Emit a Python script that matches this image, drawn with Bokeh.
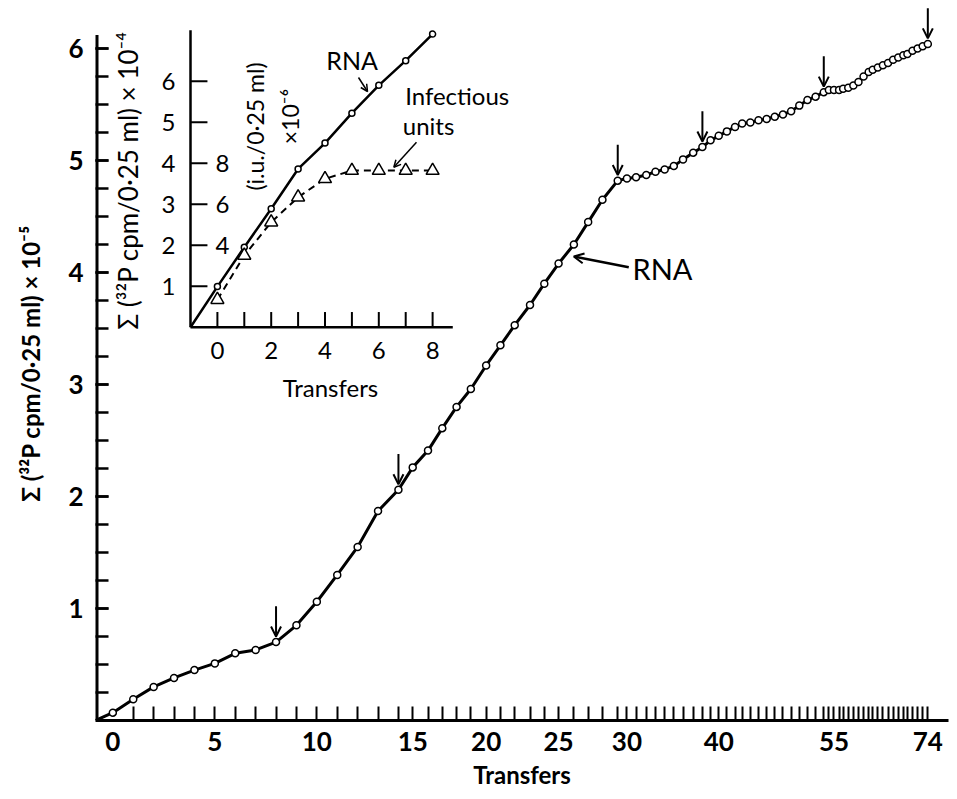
from math import pi
from bokeh.plotting import figure
from bokeh.models import Range1d, FixedTicker, ColumnDataSource, Arrow, OpenHead, Label
from bokeh.core.properties import value
from bokeh.embed import file_html
from bokeh.resources import INLINE

FONT = "Lato"
INK = "black"

# ---------------- main series: cumulative RNA vs. transfers ----------------
transfers = list(range(75))
# incubation-time position (min) at which each transfer was made
transfer_time = [17, 37, 57, 77, 97, 117, 137, 157, 177, 197, 217, 237, 257, 277, 297,
                 311, 326, 340, 354, 368, 383, 397, 411, 426, 440, 454, 469, 483, 497, 512,
                 521, 530, 540, 549, 558, 567, 576, 586, 595,
                 603, 611, 619, 627, 634, 642, 650, 658, 666, 674, 682, 690, 698, 706, 714,
                 719, 724, 729, 733, 738, 743, 748, 753, 758, 762, 767, 772, 777, 782, 787,
                 792, 796, 801, 806, 811, 816]
# sum of 32P cpm / 0.25 ml  (x 10^-5)
rna_cpm = [0.07, 0.19, 0.30, 0.38, 0.45, 0.51, 0.60, 0.63, 0.70, 0.85,
           1.06, 1.30, 1.55, 1.87, 2.06, 2.26, 2.41, 2.61, 2.80, 2.96,
           3.17, 3.35, 3.53, 3.71, 3.90, 4.08, 4.25, 4.45, 4.65, 4.82,
           4.84, 4.85, 4.87, 4.90, 4.92, 4.95, 5.01, 5.07, 5.12,
           5.18, 5.22, 5.26, 5.30, 5.33, 5.34, 5.36, 5.37, 5.39, 5.41, 5.44,
           5.49, 5.54, 5.57, 5.61,
           5.63, 5.63, 5.63, 5.64, 5.65, 5.67, 5.70, 5.75, 5.79, 5.81, 5.83,
           5.85, 5.87, 5.90, 5.92, 5.94, 5.95, 5.98, 6.00, 6.02, 6.04]
origin_time = [0]
origin_cpm = [0]
labelled_transfers = [0, 5, 10, 15, 20, 25, 30, 40, 55, 74]
arrow_transfers = [8, 14, 29, 38, 53, 74]
y_major = [1, 2, 3, 4, 5, 6]
y_minor = [k * 0.25 for k in range(1, 25)]
Y_AXIS_TOP = 6.12

# ---------------- inset series ----------------
inset_transfers = [0, 1, 2, 3, 4, 5, 6, 7, 8]
inset_rna = [0.99, 1.95, 2.89, 3.86, 4.49, 5.22, 5.90, 6.50, 7.15]      # x 10^-4
inset_iu = [1.34, 3.50, 5.12, 6.34, 7.24, 7.64, 7.64, 7.64, 7.64]       # i.u. x 10^-6
inset_x_ticks = [0, 1, 2, 3, 4, 5, 6, 7, 8]
inset_x_labels = [0, 2, 4, 6, 8]
inset_y_ticks = [1, 2, 3, 4, 5, 6]
inset_iu_labels = [4, 6, 8]
INSET_X0, INSET_X1, INSET_YTOP = -1.0, 8.75, 7.24

p = figure(width=950, height=799, output_backend="svg", toolbar_location=None,
           x_range=Range1d(0, 836.27), y_range=Range1d(0, 6.375),
           min_border_left=95, min_border_right=2, min_border_top=6, min_border_bottom=79)
p.outline_line_color = None
p.xgrid.visible = False
p.ygrid.visible = False
p.background_fill_color = "white"
p.border_fill_color = "white"

p.extra_x_ranges = {"ix": Range1d(-4.5316, 27.178)}
p.extra_y_ranges = {"iy": Range1d(-9.5927, 7.822), "iu": Range1d(-19.185, 15.644)}

# ---- main axes ----
xa = p.xaxis[0]
lab_times = [transfer_time[t] for t in labelled_transfers]
xa.ticker = FixedTicker(ticks=lab_times, minor_ticks=transfer_time[1:])
xa.major_label_overrides = {transfer_time[t]: str(t) for t in labelled_transfers}
xa.major_tick_in = 0
xa.major_tick_out = 0
xa.minor_tick_in = 14
xa.minor_tick_out = 0
xa.minor_tick_line_width = 2
xa.minor_tick_line_color = INK
xa.axis_line_width = 3
xa.axis_line_color = INK
xa.major_label_standoff = 11
xa.major_label_text_font = FONT
xa.major_label_text_font_size = "26px"
xa.major_label_text_font_style = "bold"
xa.major_label_text_color = INK
xa.axis_label = "Transfers"
xa.axis_label_standoff = 6
xa.axis_label_text_font = FONT
xa.axis_label_text_font_size = "24px"
xa.axis_label_text_font_style = "bold"
xa.axis_label_text_color = INK

ya = p.yaxis[0]
ya.ticker = FixedTicker(ticks=y_major, minor_ticks=y_minor)
ya.major_tick_in = 13
ya.major_tick_out = 0
ya.minor_tick_in = 13
ya.minor_tick_out = 0
ya.major_tick_line_width = 2.5
ya.minor_tick_line_width = 2.5
ya.major_tick_line_color = INK
ya.minor_tick_line_color = INK
ya.axis_line_color = None
ya.major_label_standoff = 12
ya.major_label_orientation = "horizontal"
ya.major_label_text_font = FONT
ya.major_label_text_font_size = "26px"
ya.major_label_text_font_style = "bold"
ya.major_label_text_color = INK
ya.axis_label = "\u03a3 (\u00b3\u00b2P cpm/0\u00b725 ml) \u00d7 10\u207b\u2075"
ya.axis_label_standoff = 20
ya.axis_label_text_font = FONT
ya.axis_label_text_font_size = "24px"
ya.axis_label_text_font_style = "bold"
ya.axis_label_text_color = INK

# main y-axis line (stops below the top so the last arrow fits)
p.segment(x0=[0], y0=[0], x1=[0], y1=[Y_AXIS_TOP], line_color=INK, line_width=6)

# ---- main curve ----
p.line(origin_time + transfer_time, origin_cpm + rna_cpm, line_color=INK, line_width=3)
p.scatter(transfer_time, rna_cpm, marker="circle", size=7, fill_color="white",
          line_color=INK, line_width=1.5)

ARROW_TOP, ARROW_TIP = 0.32, 0.05
arr_src = ColumnDataSource(dict(
    x=[transfer_time[t] for t in arrow_transfers],
    y0=[rna_cpm[t] + ARROW_TOP for t in arrow_transfers],
    y1=[rna_cpm[t] + ARROW_TIP for t in arrow_transfers]))
p.add_layout(Arrow(source=arr_src, x_start="x", y_start="y0", x_end="x", y_end="y1",
                   line_width=2, line_color=INK,
                   end=OpenHead(size=10, line_width=2, line_color=INK)))

p.add_layout(Arrow(x_start=522.8, y_start=4.047, x_end=468.9, y_end=4.143, line_width=2.5,
                   line_color=INK, end=OpenHead(size=10, line_width=2, line_color=INK)))
p.add_layout(Label(x=526.5, y=4.036, text="RNA", text_font=FONT, text_font_size="29px",
                   text_color=INK, text_align="left", text_baseline="middle"))

# ---------------- inset (drawn on extra ranges) ----------------
R = dict(x_range_name="ix", y_range_name="iy")
p.line([INSET_X0, INSET_X1], [0, 0], line_color=INK, line_width=2.5, **R)
p.line([INSET_X0, INSET_X0], [0, INSET_YTOP], line_color=INK, line_width=2.5, **R)
p.segment(x0=inset_x_ticks, y0=[0] * len(inset_x_ticks), x1=inset_x_ticks,
          y1=[0.37] * len(inset_x_ticks), line_color=INK, line_width=2, **R)
p.segment(x0=[INSET_X0] * len(inset_y_ticks), y0=inset_y_ticks,
          x1=[INSET_X0 + 0.63] * len(inset_y_ticks), y1=inset_y_ticks,
          line_color=INK, line_width=2, **R)
p.text(x=inset_x_labels, y=[-0.57] * len(inset_x_labels), text=[str(v) for v in inset_x_labels],
       text_font=value(FONT), text_font_size="24px", text_color=INK, text_align="center",
       text_baseline="middle", **R)
p.text(x=[INSET_X0 - 0.56] * len(inset_y_ticks), y=inset_y_ticks,
       text=[str(v) for v in inset_y_ticks], text_font=value(FONT), text_font_size="24px",
       text_color=INK, text_align="right", text_baseline="middle", **R)
p.text(x=[INSET_X0 + 0.93] * len(inset_iu_labels), y=inset_iu_labels,
       text=[str(v) for v in inset_iu_labels], text_font=value(FONT), text_font_size="24px",
       text_color=INK, text_align="left", text_baseline="middle",
       x_range_name="ix", y_range_name="iu")

p.line([INSET_X0] + inset_transfers, [0] + inset_rna, line_color=INK, line_width=2.5, **R)
p.scatter(inset_transfers, inset_rna, marker="circle", size=6, fill_color="white",
          line_color=INK, line_width=1.5, **R)
p.line(inset_transfers, inset_iu, line_color=INK, line_width=2, line_dash="7 5",
       x_range_name="ix", y_range_name="iu")
p.scatter(inset_transfers, inset_iu, marker="triangle", size=13, fill_color="white",
          line_color=INK, line_width=1.5, x_range_name="ix", y_range_name="iu")

p.add_layout(Label(x=5.011, y=6.505, text="RNA", text_font=FONT, text_font_size="25px",
                   text_color=INK, text_align="center", text_baseline="middle", **R))
p.add_layout(Arrow(x_start=5.245, y_start=6.09, x_end=5.58, y_end=5.749, line_width=1.5,
                   line_color=INK, end=OpenHead(size=7, line_width=1.5, line_color=INK), **R))
p.add_layout(Label(x=8.915, y=5.651, text="Infectious", text_font=FONT, text_font_size="24px",
                   text_color=INK, text_align="center", text_baseline="middle", **R))
p.add_layout(Label(x=7.848, y=4.92, text="units", text_font=FONT, text_font_size="24px",
                   text_color=INK, text_align="center", text_baseline="middle", **R))
p.add_layout(Arrow(x_start=7.401, y_start=4.512, x_end=6.558, y_end=3.902, line_width=1.5,
                   line_color=INK, end=OpenHead(size=7, line_width=1.5, line_color=INK), **R))

p.add_layout(Label(x=-3.342, y=3.578, text="\u03a3 (\u00b3\u00b2P cpm/0\u00b725 ml) \u00d7 10\u207b\u2074",
                   angle=pi / 2, text_font=FONT, text_font_size="26px", text_color=INK,
                   text_align="center", text_baseline="middle", **R))
p.add_layout(Label(x=1.416, y=4.895, text="(i.u./0\u00b725 ml)", angle=pi / 2, text_font=FONT,
                   text_font_size="23px", text_color=INK, text_align="center",
                   text_baseline="middle", **R))
p.add_layout(Label(x=2.717, y=5.137, text="\u00d710\u207b\u2076", angle=pi / 2, text_font=FONT,
                   text_font_size="23px", text_color=INK, text_align="center",
                   text_baseline="middle", **R))
p.add_layout(Label(x=4.204, y=-1.471, text="Transfers", text_font=FONT, text_font_size="24px",
                   text_color=INK, text_align="center", text_baseline="middle", **R))

open("out.html", "w").write(file_html(p, INLINE))
